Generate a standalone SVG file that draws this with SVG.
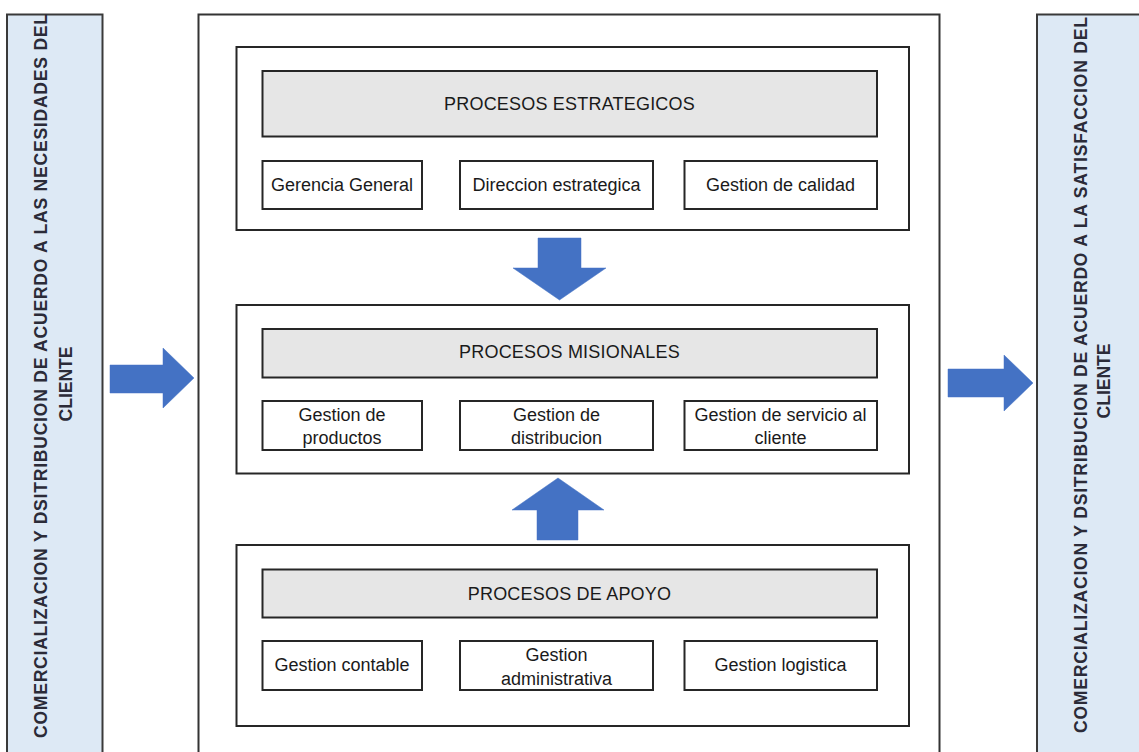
<svg xmlns="http://www.w3.org/2000/svg" width="1139" height="752" viewBox="0 0 1139 752">
<style>
.panel{fill:#dde9f5;stroke:#3a3a3a;stroke-width:2}
.frame{fill:#ffffff;stroke:#333333;stroke-width:2}
.hdr{fill:#e6e6e6;stroke:#262626;stroke-width:2}
.box{fill:#ffffff;stroke:#262626;stroke-width:2}
.arrow{fill:#4472c4;stroke:#4472c4;stroke-width:0.5}
.t{font-family:"Liberation Sans",Arial,sans-serif;font-size:18px;fill:#1a1a1a;text-anchor:middle}
.h{letter-spacing:0.2px}
.v{font-family:"Liberation Sans",Arial,sans-serif;font-size:17.5px;font-weight:bold;fill:#2b2b38}
</style>
<rect width="1139" height="752" fill="#ffffff"/>

<g id="left-panel">
<rect class="panel" x="7" y="14.5" width="95.5" height="760"/>
<text class="v" transform="translate(47,738) rotate(-90)" textLength="724" lengthAdjust="spacing">COMERCIALIZACION Y DSITRIBUCION DE ACUERDO A LAS NECESIDADES DEL</text>
<text class="v" transform="translate(72,384) rotate(-90)" text-anchor="middle">CLIENTE</text>
</g>

<g id="right-panel">
<rect class="panel" x="1037" y="14.5" width="120" height="760"/>
<text class="v" transform="translate(1087,733) rotate(-90)" textLength="716" lengthAdjust="spacing">COMERCIALIZACION Y DSITRIBUCION DE ACUERDO A LA SATISFACCION DEL</text>
<text class="v" transform="translate(1110,381) rotate(-90)" text-anchor="middle">CLIENTE</text>
</g>

<g id="main-frame">
<rect class="frame" x="198.5" y="14.5" width="741" height="760"/>
</g>

<g id="estrategicos">
<rect class="box" x="236.5" y="47" width="672.5" height="183"/>
<rect class="hdr" x="262.5" y="71" width="614.5" height="65.5"/>
<text class="t h" x="569.5" y="110">PROCESOS ESTRATEGICOS</text>
<rect class="box" x="262.5" y="161" width="159.5" height="48"/>
<text class="t" x="342" y="191">Gerencia General</text>
<rect class="box" x="460" y="161" width="193" height="48"/>
<text class="t" x="556.5" y="191">Direccion estrategica</text>
<rect class="box" x="684.5" y="161" width="192.5" height="48"/>
<text class="t" x="780.5" y="191">Gestion de calidad</text>
</g>

<g id="misionales">
<rect class="box" x="236.5" y="305" width="672.5" height="168.5"/>
<rect class="hdr" x="262.5" y="329" width="614.5" height="48.5"/>
<text class="t h" x="569.5" y="358">PROCESOS MISIONALES</text>
<rect class="box" x="262.5" y="401" width="159.5" height="49"/>
<text class="t" x="342" y="421">Gestion de</text>
<text class="t" x="342" y="444">productos</text>
<rect class="box" x="460" y="401" width="193" height="49"/>
<text class="t" x="556.5" y="421">Gestion de</text>
<text class="t" x="556.5" y="444">distribucion</text>
<rect class="box" x="684.5" y="401" width="192.5" height="49"/>
<text class="t" x="780.5" y="421">Gestion de servicio al</text>
<text class="t" x="780.5" y="444">cliente</text>
</g>

<g id="apoyo">
<rect class="box" x="236.5" y="545" width="672.5" height="181"/>
<rect class="hdr" x="262.5" y="569.5" width="614.5" height="48"/>
<text class="t h" x="569.5" y="600">PROCESOS DE APOYO</text>
<rect class="box" x="262.5" y="641" width="159.5" height="49"/>
<text class="t" x="342" y="671">Gestion contable</text>
<rect class="box" x="460" y="641" width="193" height="49"/>
<text class="t" x="556.5" y="661">Gestion</text>
<text class="t" x="556.5" y="685">administrativa</text>
<rect class="box" x="684.5" y="641" width="192.5" height="49"/>
<text class="t" x="780.5" y="671">Gestion logistica</text>
</g>

<g id="connectors">
<polygon class="arrow" points="110,365 163,365 163,348 194,378 163,408 163,393 110,393"/>
<polygon class="arrow" points="948,369 1004,369 1004,355 1033,383 1004,411 1004,397 948,397"/>
<polygon class="arrow" points="538,238 581,238 581,268 606,268 559.5,300 513,268 538,268"/>
<polygon class="arrow" points="537,540 578,540 578,510 604,510 558,478 512,510 537,510"/>
</g>
</svg>
